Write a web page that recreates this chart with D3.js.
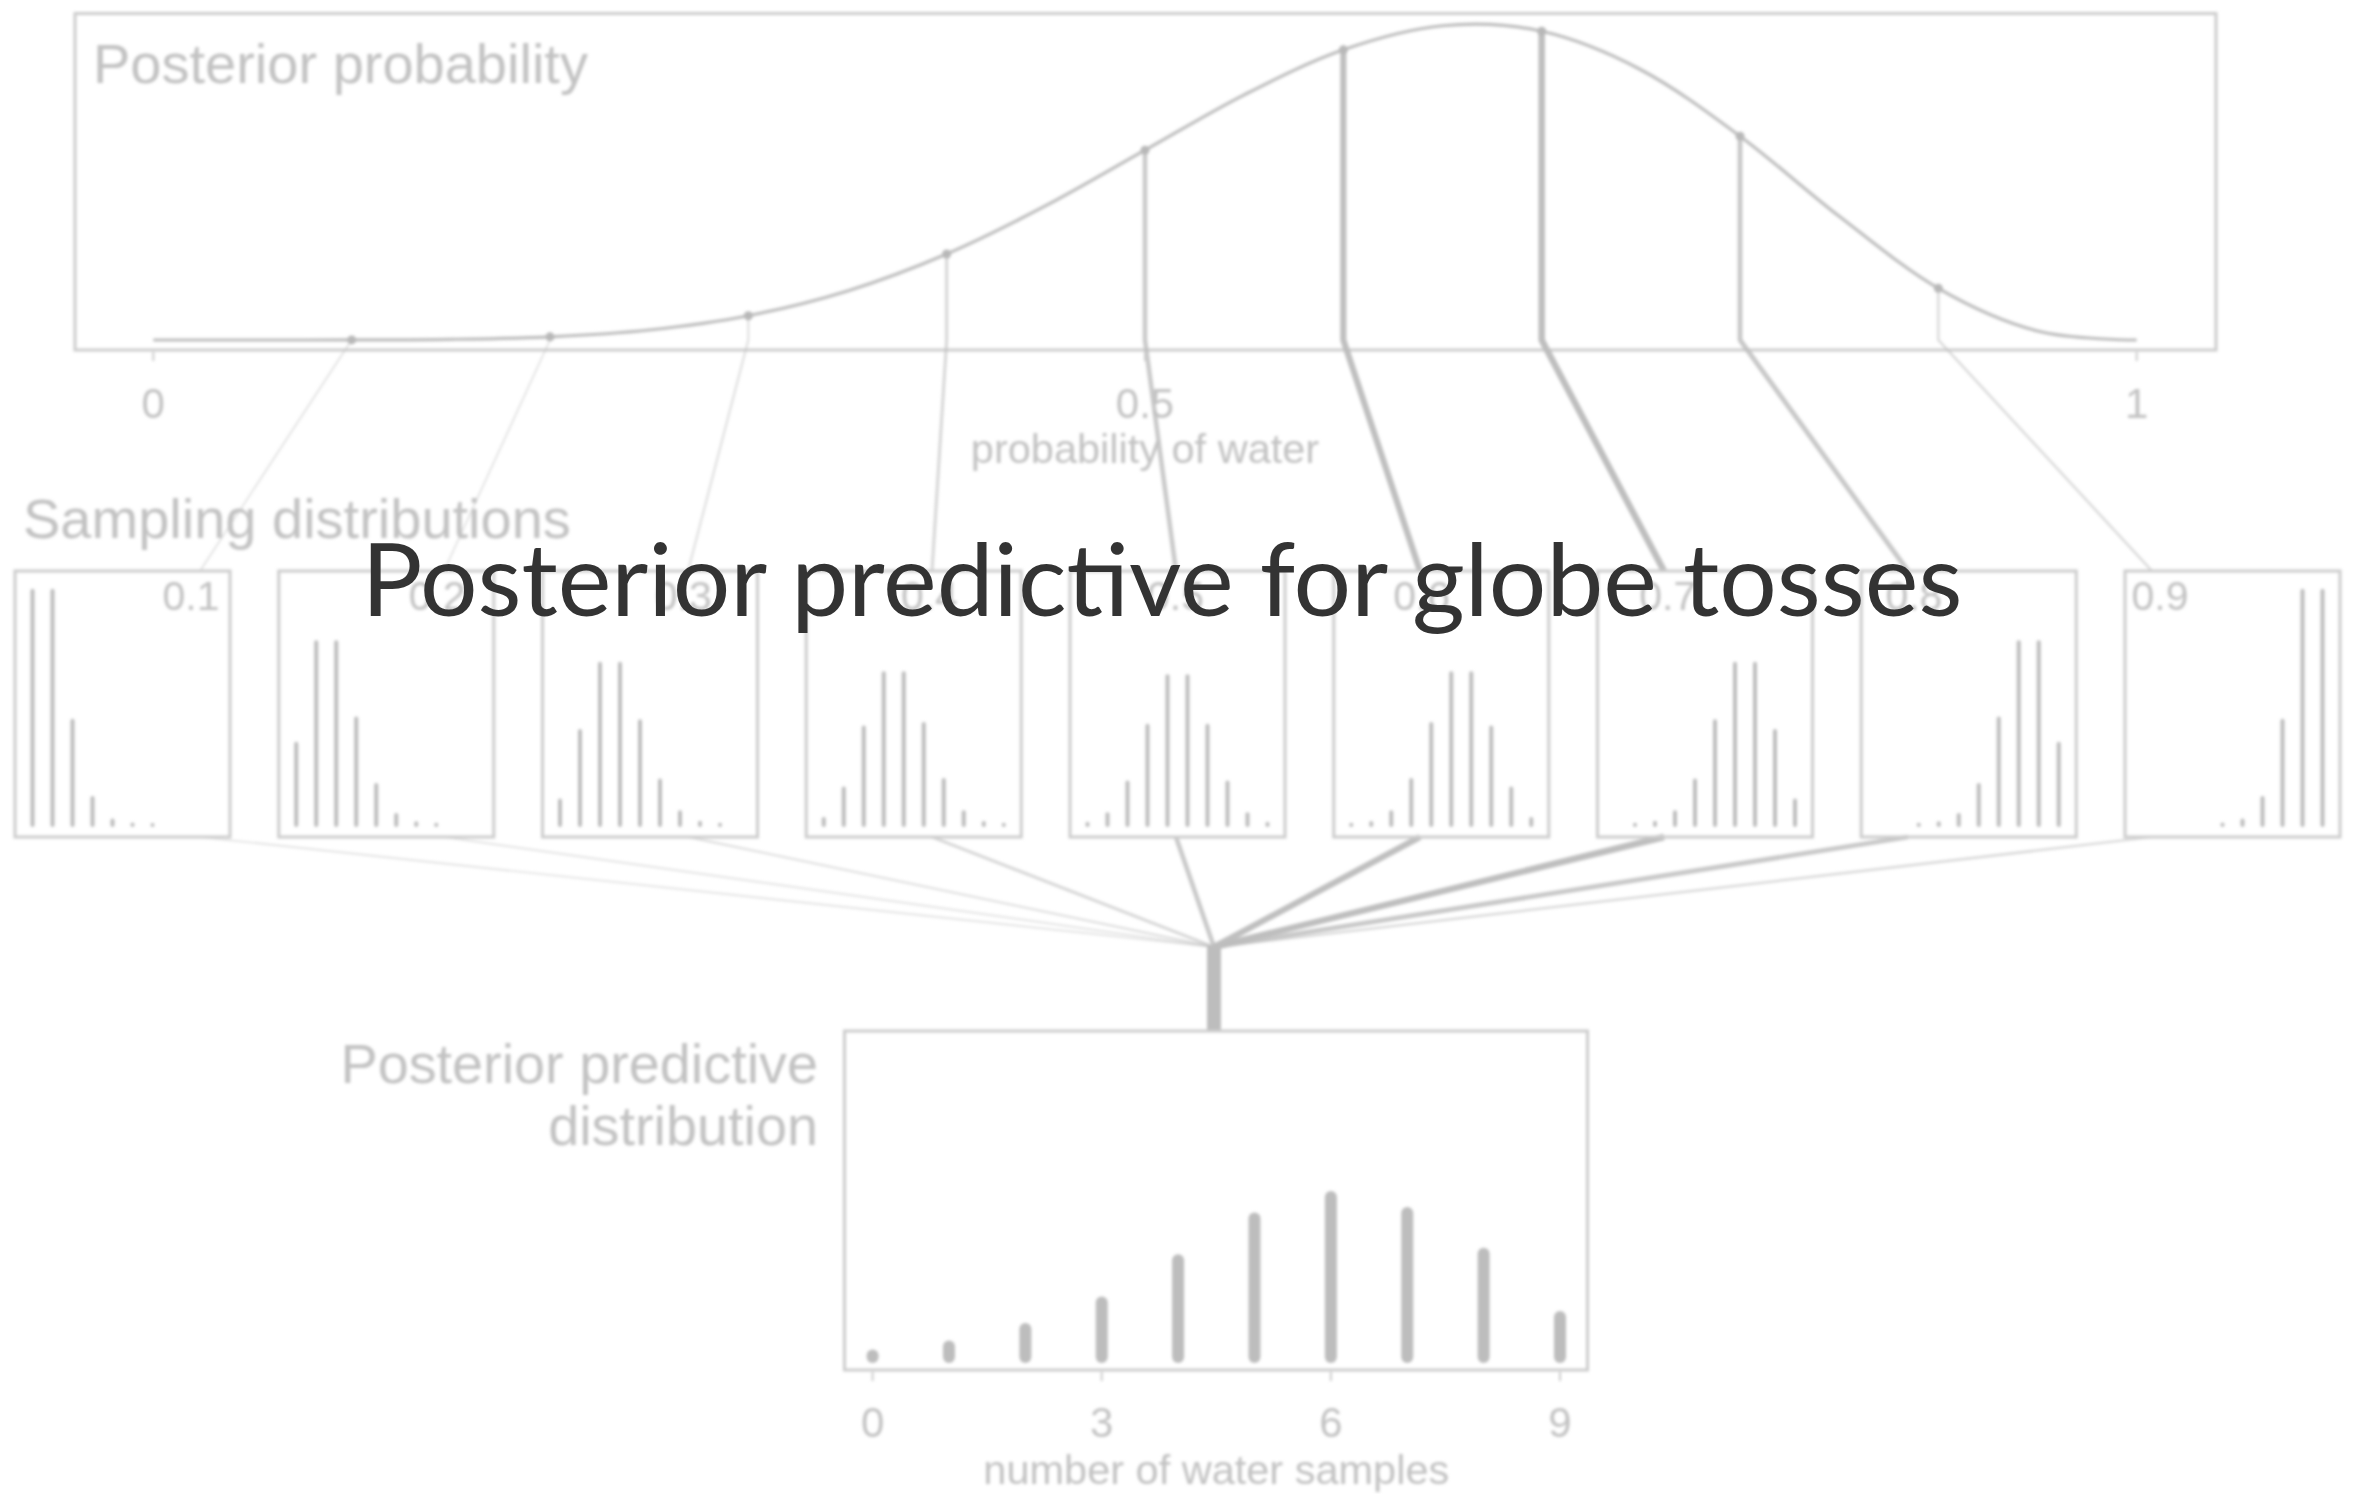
<!DOCTYPE html>
<html>
<head>
<meta charset="utf-8">
<script src="https://cdn.jsdelivr.net/npm/d3@7"></script>
<style>
  html, body { margin: 0; padding: 0; background: #fff; }
  svg { display: block; }
</style>
</head>
<body>
<svg id="chart" width="2356" height="1494"></svg>
<script>
// ---- data ---------------------------------------------------------------
// Posterior for the proportion of water, on a 0.05 grid (peak scaled to 1)
const waterGrid = [0, 0.05, 0.1, 0.15, 0.2, 0.25, 0.3, 0.35, 0.4, 0.45, 0.5,
                   0.55, 0.6, 0.65, 0.7, 0.75, 0.8, 0.85, 0.9, 0.95, 1];
const posteriorHeight = [0, 0, 0.0002, 0.0021, 0.0101, 0.0317, 0.0769, 0.1552, 0.2721, 0.425, 0.6007,
                         0.7758, 0.9183, 0.9945, 0.9769, 0.8553, 0.645, 0.3915, 0.1634, 0.0283, 0];

// Parameter values that get their own sampling distribution
const sampleP = [0.1, 0.2, 0.3, 0.4, 0.5, 0.6, 0.7, 0.8, 0.9];
const sampleLabels = ["0.1", "0.2", "0.3", "0.4", "0.5", "0.6", "0.7", "0.8", "0.9"];

// Number of water samples in 9 tosses
const waterCounts = [0, 1, 2, 3, 4, 5, 6, 7, 8, 9];

// Sampling distributions of the water count, one per parameter value
const sampling01 = [0.3874, 0.3874, 0.1722, 0.0446, 0.0074, 0.0008, 0.0001, 0, 0, 0];
const sampling02 = [0.1342, 0.3020, 0.3020, 0.1762, 0.0661, 0.0165, 0.0028, 0.0003, 0, 0];
const sampling03 = [0.0404, 0.1556, 0.2668, 0.2668, 0.1715, 0.0735, 0.0210, 0.0039, 0.0004, 0];
const sampling04 = [0.0101, 0.0605, 0.1612, 0.2508, 0.2508, 0.1672, 0.0743, 0.0212, 0.0035, 0.0003];
const sampling05 = [0.0020, 0.0176, 0.0703, 0.1641, 0.2461, 0.2461, 0.1641, 0.0703, 0.0176, 0.0020];
const sampling06 = [0.0003, 0.0035, 0.0212, 0.0743, 0.1672, 0.2508, 0.2508, 0.1612, 0.0605, 0.0101];
const sampling07 = [0, 0.0004, 0.0039, 0.0210, 0.0735, 0.1715, 0.2668, 0.2668, 0.1556, 0.0404];
const sampling08 = [0, 0, 0.0003, 0.0028, 0.0165, 0.0661, 0.1762, 0.3020, 0.3020, 0.1342];
const sampling09 = [0, 0, 0, 0, 0.0008, 0.0074, 0.0446, 0.1722, 0.3874, 0.3874];
const samplingDists = [sampling01, sampling02, sampling03, sampling04, sampling05,
                       sampling06, sampling07, sampling08, sampling09];

// Posterior predictive distribution of the water count
const predictive = [0.002, 0.013, 0.035, 0.068, 0.121, 0.173, 0.200, 0.180, 0.129, 0.050];

// Axis ticks
const probTicks = [0, 0.5, 1];
const probTickLabels = ["0", "0.5", "1"];
const countTicks = [0, 3, 6, 9];

// ---- drawing ------------------------------------------------------------
const svg = d3.select("#chart");
const inkText = "#c2c2c2";
const inkBox = "#cccccc";
const inkMark = "#bdbdbd";
const diagramFont = "'Liberation Sans', Arial, Helvetica, sans-serif";

const defs = svg.append("defs");
defs.append("filter").attr("id", "soft")
  .attr("x", "-5%").attr("y", "-5%").attr("width", "110%").attr("height", "110%")
  .append("feGaussianBlur").attr("stdDeviation", 1.5);

const g = svg.append("g").attr("filter", "url(#soft)");

const heightAt = p => posteriorHeight[waterGrid.findIndex(v => Math.abs(v - p) < 1e-9)];

// Top panel: posterior probability
const xProb = d3.scaleLinear().domain([0, 1]).range([153.3, 2136.7]);
const yPost = d3.scaleLinear().domain([0, 1]).range([340, 24]);

g.append("rect").attr("x", 75).attr("y", 13.5).attr("width", 2141).attr("height", 336.5)
  .attr("fill", "none").attr("stroke", inkBox).attr("stroke-width", 3);

g.append("text").attr("x", 93).attr("y", 83)
  .attr("font-family", diagramFont).attr("font-size", 56).attr("fill", inkText)
  .text("Posterior probability");

const lineWidth = d3.scaleLinear().domain([0, 1]).range([1.4, 6.6]);
const lineAlpha = d3.scaleLinear().domain([0, 1]).range([0.55, 1]);

// Panel geometry for the sampling distributions
const panelLeft = d3.scaleLinear().domain([0, 8]).range([15, 2125]);
const panelW = 215, panelTop = 571, panelBottom = 837;
const anchorX = d3.scaleLinear().domain([0.1, 0.9]).range([200, 2152]);
const labelX = d3.scaleLinear().domain([0.1, 0.9]).range([191, 2160]);
const joinPoint = [1214, 947];

// Connectors: curve -> sampling panel -> predictive
sampleP.forEach(p => {
  const h = heightAt(p);
  const path = d3.path();
  path.moveTo(xProb(p), yPost(h));
  path.lineTo(xProb(p), yPost(0));
  path.lineTo(anchorX(p), panelTop);
  g.append("path").attr("d", path.toString())
    .attr("fill", "none").attr("stroke", inkMark)
    .attr("stroke-width", lineWidth(h)).attr("stroke-opacity", lineAlpha(h))
    .attr("stroke-linejoin", "round");

  const down = d3.path();
  down.moveTo(anchorX(p), panelBottom);
  down.lineTo(joinPoint[0], joinPoint[1]);
  g.append("path").attr("d", down.toString())
    .attr("fill", "none").attr("stroke", inkMark)
    .attr("stroke-width", lineWidth(h)).attr("stroke-opacity", lineAlpha(h));
});

// Posterior curve and the sampled points on it
g.append("path")
  .datum(waterGrid.map((p, i) => [p, posteriorHeight[i]]))
  .attr("fill", "none").attr("stroke", inkMark).attr("stroke-width", 3.2)
  .attr("d", d3.line().x(d => xProb(d[0])).y(d => yPost(d[1])).curve(d3.curveCatmullRom.alpha(0)));

g.selectAll("circle.pt").data(sampleP).join("circle").attr("class", "pt")
  .attr("cx", p => xProb(p)).attr("cy", p => yPost(heightAt(p))).attr("r", 4.5)
  .attr("fill", "#b8b8b8");

// Probability axis
g.selectAll("line.ptick").data(probTicks).join("line").attr("class", "ptick")
  .attr("x1", d => xProb(d)).attr("x2", d => xProb(d)).attr("y1", 352).attr("y2", 361)
  .attr("stroke", inkBox).attr("stroke-width", 2);
g.selectAll("text.plab").data(probTicks).join("text").attr("class", "plab")
  .attr("x", d => xProb(d)).attr("y", 418).attr("text-anchor", "middle")
  .attr("font-family", diagramFont).attr("font-size", 42).attr("fill", inkText)
  .text((d, i) => probTickLabels[i]);
g.append("text").attr("x", xProb(0.5)).attr("y", 463).attr("text-anchor", "middle")
  .attr("font-family", diagramFont).attr("font-size", 41.5).attr("fill", inkText)
  .text("probability of water");

// Sampling distributions
g.append("text").attr("x", 23).attr("y", 538)
  .attr("font-family", diagramFont).attr("font-size", 56).attr("fill", inkText)
  .text("Sampling distributions");

const xIn = d3.scaleLinear().domain([0, 9]).range([17.5, 197.5]);
const yIn = d3.scaleLinear().domain([0, 0.4]).range([825, 583.1]);

samplingDists.forEach((dist, i) => {
  const left = panelLeft(i);
  const panel = g.append("g");
  panel.append("rect").attr("x", left).attr("y", panelTop)
    .attr("width", panelW).attr("height", panelBottom - panelTop)
    .attr("fill", "none").attr("stroke", inkBox).attr("stroke-width", 3);
  panel.selectAll("line").data(waterCounts.filter(k => dist[k] > 0)).join("line")
    .attr("x1", k => left + xIn(k)).attr("x2", k => left + xIn(k))
    .attr("y1", yIn(0)).attr("y2", k => yIn(dist[k]))
    .attr("stroke", inkMark).attr("stroke-width", 4).attr("stroke-linecap", "round");
  panel.append("text").attr("x", labelX(sampleP[i])).attr("y", 610)
    .attr("text-anchor", "middle")
    .attr("font-family", diagramFont).attr("font-size", 41).attr("fill", inkText)
    .text(sampleLabels[i]);
});

// Posterior predictive distribution
const xCount = d3.scaleLinear().domain([0, 9]).range([872.6, 1560]);
const yPred = d3.scaleLinear().domain([0, 0.2]).range([1357, 1197]);

g.append("line").attr("x1", joinPoint[0]).attr("x2", joinPoint[0])
  .attr("y1", joinPoint[1] - 2).attr("y2", 1031)
  .attr("stroke", inkMark).attr("stroke-width", 14);

g.append("rect").attr("x", 844.5).attr("y", 1031).attr("width", 743).attr("height", 339)
  .attr("fill", "none").attr("stroke", inkBox).attr("stroke-width", 3);

g.selectAll("line.pred").data(waterCounts).join("line").attr("class", "pred")
  .attr("x1", k => xCount(k)).attr("x2", k => xCount(k))
  .attr("y1", yPred(0)).attr("y2", k => yPred(predictive[k]))
  .attr("stroke", inkMark).attr("stroke-width", 12).attr("stroke-linecap", "round");

g.selectAll("line.ctick").data(countTicks).join("line").attr("class", "ctick")
  .attr("x1", d => xCount(d)).attr("x2", d => xCount(d)).attr("y1", 1372).attr("y2", 1381)
  .attr("stroke", inkBox).attr("stroke-width", 2);
g.selectAll("text.clab").data(countTicks).join("text").attr("class", "clab")
  .attr("x", d => xCount(d)).attr("y", 1437).attr("text-anchor", "middle")
  .attr("font-family", diagramFont).attr("font-size", 42).attr("fill", inkText)
  .text(d => d);
g.append("text").attr("x", xCount(4.5)).attr("y", 1484).attr("text-anchor", "middle")
  .attr("font-family", diagramFont).attr("font-size", 41.5).attr("fill", inkText)
  .text("number of water samples");

const predLabel = g.append("text").attr("text-anchor", "end")
  .attr("font-family", diagramFont).attr("font-size", 55.8).attr("fill", inkText);
predLabel.append("tspan").attr("x", 818).attr("y", 1083).text("Posterior predictive");
predLabel.append("tspan").attr("x", 818).attr("y", 1145).text("distribution");

// Title
svg.append("text").attr("x", 1162).attr("y", 616).attr("text-anchor", "middle")
  .attr("font-family", "Lato, 'Open Sans', sans-serif").attr("font-size", 101.6)
  .attr("fill", "#333333")
  .text("Posterior predictive for globe tosses");
</script>
</body>
</html>
